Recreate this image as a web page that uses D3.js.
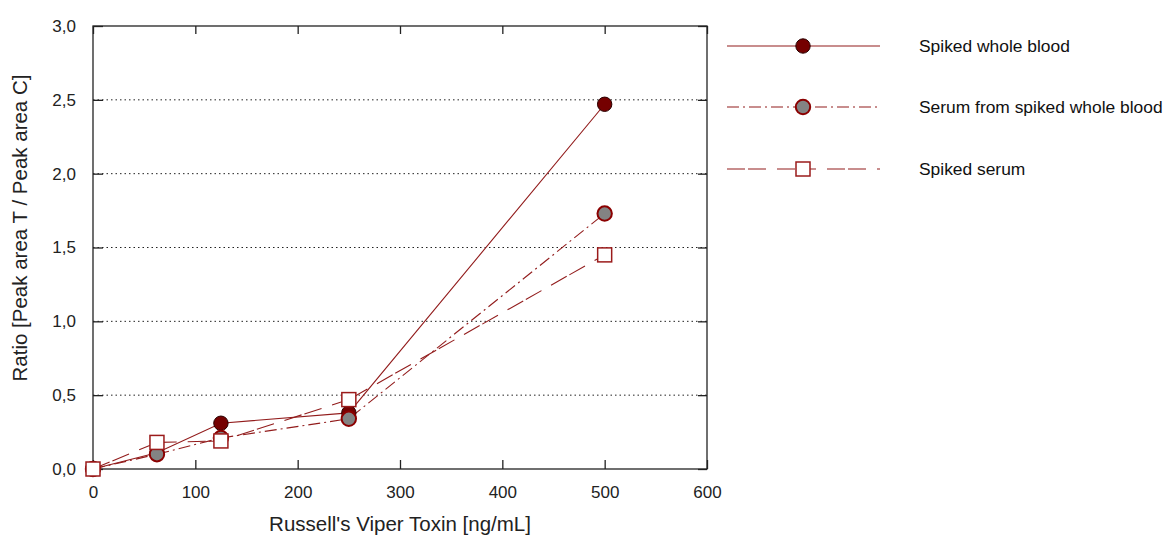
<!DOCTYPE html>
<meta charset="utf-8">
<html>
<head>
  <title>Russell's Viper Toxin</title>
  <style>
    body { margin: 0; background: #fff; }
    svg { width: 1164px; height: 535px; font-family: 'Liberation Sans', Arial, sans-serif; }
    .grid line { stroke: #222; stroke-dasharray: 1.5,3; }
    .tick-label { font-size: 17px; fill: #222; }
    .axis-title { font-size: 20.5px; fill: #222; }
    .legend-text { font-size: 17.4px; fill: #111; }
  </style>
  <script src="https://d3js.org/d3.v7.min.js"></script>
</head>
<body>
  <svg></svg>
  <script>
    // data
    var conc = [0, 62.5, 125, 250, 500];
    var wholeBlood = [0, 0.11, 0.31, 0.38, 2.47];
    var serumFromBlood = [0, 0.10, 0.21, 0.34, 1.73];
    var spikedSerum = [0, 0.18, 0.19, 0.47, 1.45];
    var seriesNames = ["Spiked whole blood", "Serum from spiked whole blood", "Spiked serum"];
    var xTicks = [0, 100, 200, 300, 400, 500, 600];
    var yTicks = [0, 0.5, 1.0, 1.5, 2.0, 2.5, 3.0];

    var svg = d3.select("svg");
    var plot = {left: 93, right: 707, top: 26, bottom: 469};

    var x = d3.scaleLinear().domain([0, 600]).range([plot.left, plot.right]);
    var y = d3.scaleLinear().domain([0, 3]).range([plot.bottom, plot.top]);
    var fmt = function(d) { return d3.format(".1f")(d).replace(".", ","); };

    var lineColor = "#921c1c";
    var styles = [
      {dash: null, marker: "circle", fill: "#750000", stroke: "#2a0000", sw: 1},
      {dash: "12,4,2,4", marker: "circle", fill: "#838383", stroke: "#8b0000", sw: 2},
      {dash: "18,3,18,11", marker: "square", fill: "#fff", stroke: "#9b1b1b", sw: 1.5}
    ];
    var series = [wholeBlood, serumFromBlood, spikedSerum].map(function(vals, i) {
      return {name: seriesNames[i], style: styles[i],
              values: vals.map(function(v, j) { return {x: conc[j], y: v}; })};
    });

    // dotted grid
    svg.append("g").attr("class", "grid")
      .selectAll("line").data(yTicks.filter(function(d) { return d > 0 && d < 3; }))
      .enter().append("line")
      .attr("x1", plot.left).attr("x2", plot.right)
      .attr("y1", function(d) { return y(d); }).attr("y2", function(d) { return y(d); });

    // frame
    svg.append("rect")
      .attr("x", plot.left).attr("y", plot.top)
      .attr("width", plot.right - plot.left).attr("height", plot.bottom - plot.top)
      .attr("fill", "none").attr("stroke", "#222").attr("stroke-width", 1.3);

    // axes with inward ticks on all four sides
    svg.append("g").attr("transform", "translate(0," + plot.bottom + ")")
      .call(d3.axisBottom(x).tickValues(xTicks).tickSizeInner(-9).tickSizeOuter(0).tickPadding(17))
      .call(function(g) { g.select(".domain").remove(); });
    svg.append("g").attr("transform", "translate(0," + plot.top + ")")
      .call(d3.axisTop(x).tickValues(xTicks).tickSizeInner(-8).tickSizeOuter(0).tickFormat(""))
      .call(function(g) { g.select(".domain").remove(); });
    svg.append("g").attr("transform", "translate(" + plot.left + ",0)")
      .call(d3.axisLeft(y).tickValues(yTicks).tickSizeInner(-10).tickSizeOuter(0).tickPadding(17).tickFormat(fmt))
      .call(function(g) { g.select(".domain").remove(); });
    svg.append("g").attr("transform", "translate(" + plot.right + ",0)")
      .call(d3.axisRight(y).tickValues(yTicks).tickSizeInner(-9).tickSizeOuter(0).tickFormat(""))
      .call(function(g) { g.select(".domain").remove(); });

    svg.selectAll(".tick line").attr("stroke", "#222").attr("stroke-width", 1.3);
    svg.selectAll(".tick text").attr("class", "tick-label")
      .attr("font-family", null).attr("font-size", null).attr("fill", null);

    // axis titles
    svg.append("text").attr("class", "axis-title")
      .attr("x", (plot.left + plot.right) / 2).attr("y", 531)
      .attr("text-anchor", "middle").text("Russell's Viper Toxin [ng/mL]");
    svg.append("text").attr("class", "axis-title")
      .attr("transform", "translate(27," + 228 + ") rotate(-90)")
      .attr("text-anchor", "middle").text("Ratio [Peak area T / Peak area C]");

    function drawMarker(sel, st) {
      if (st.marker === "circle") {
        sel.append("circle").attr("r", 7.2)
          .attr("fill", st.fill).attr("stroke", st.stroke).attr("stroke-width", st.sw);
      } else {
        sel.append("rect").attr("x", -7).attr("y", -7).attr("width", 14).attr("height", 14)
          .attr("fill", st.fill).attr("stroke", st.stroke).attr("stroke-width", st.sw);
      }
    }

    var line = d3.line()
      .x(function(d) { return x(d.x); })
      .y(function(d) { return y(d.y); });

    // lines first, then markers on top
    series.forEach(function(s) {
      svg.append("path").datum(s.values)
        .attr("d", line).attr("fill", "none")
        .attr("stroke", lineColor).attr("stroke-width", 1.1)
        .attr("stroke-dasharray", s.style.dash);
    });
    series.forEach(function(s) {
      svg.append("g").selectAll("g").data(s.values).enter().append("g")
        .attr("transform", function(d) { return "translate(" + x(d.x) + "," + y(d.y) + ")"; })
        .each(function() { drawMarker(d3.select(this), s.style); });
    });

    // legend
    var legendY = [46, 107, 169];
    var leg = svg.append("g").selectAll("g").data(series).enter().append("g")
      .attr("transform", function(d, i) { return "translate(0," + legendY[i] + ")"; });
    leg.append("line").attr("x1", 727).attr("x2", 880)
      .attr("stroke", lineColor).attr("stroke-width", 1.1)
      .attr("stroke-dasharray", function(d) { return d.style.dash; });
    leg.append("g").attr("transform", "translate(803,0)")
      .each(function(d) { drawMarker(d3.select(this), d.style); });
    leg.append("text").attr("class", "legend-text")
      .attr("x", 919).attr("dy", "0.35em")
      .text(function(d) { return d.name; });
  </script>
</body>
</html>
